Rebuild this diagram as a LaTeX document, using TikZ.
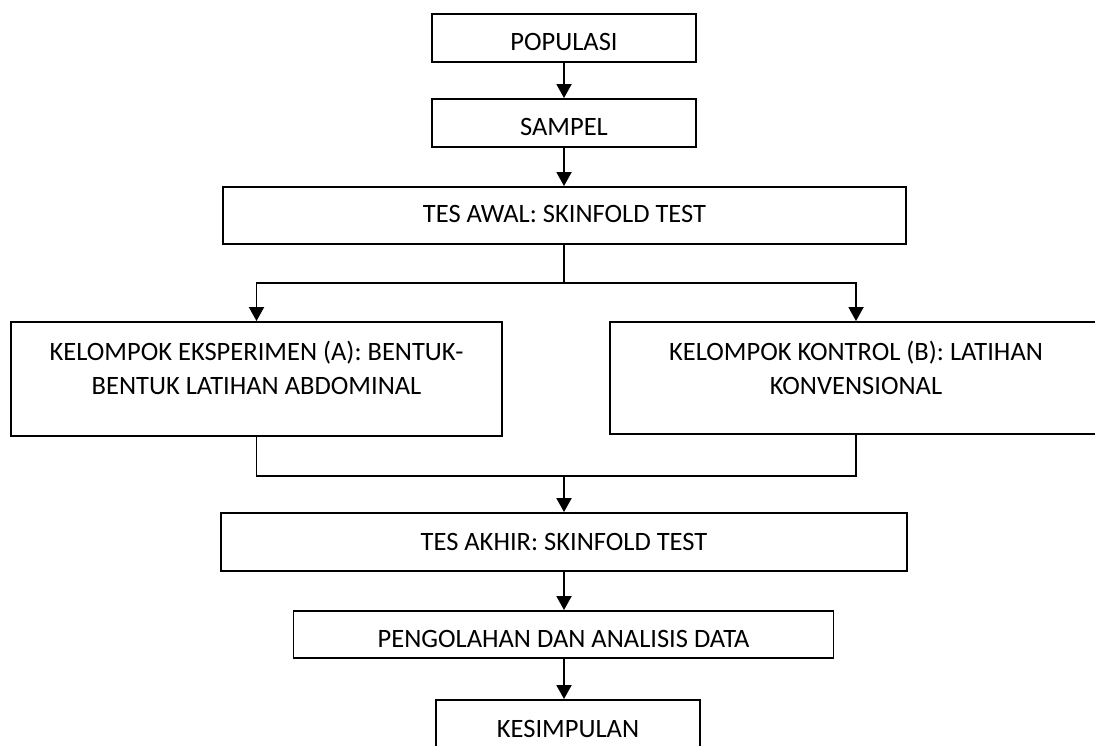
\documentclass[tikz,border=0pt]{standalone}
\usepackage{fontspec}
\setmainfont{Carlito}
\usetikzlibrary{arrows.meta}
\begin{document}
\begin{tikzpicture}[x=1pt,y=-1pt,
  box/.style={draw=black,line width=1.9pt,rectangle,inner sep=0pt},
  txt/.style={anchor=base,inner sep=0pt,font=\fontsize{26.5}{32}\selectfont},
  conn/.style={draw=black,line width=1.9pt},
  arr/.style={conn,-{Triangle[length=14pt,width=15pt]}}]
\useasboundingbox (0,0) rectangle (1095,745);
% boxes
\node[box,minimum width=264,minimum height=48] (pop) at (564,38) {};
\node[txt] (popT) at (564,50) {POPULASI};
\node[box,minimum width=264,minimum height=48] (samp) at (564,123) {};
\node[txt] (sampT) at (564,135) {SAMPEL};
\node[box,minimum width=683,minimum height=57] (awal) at (564.5,215.5) {};
\node[txt] (awalT) at (564.5,222) {TES AWAL: SKINFOLD TEST};
\node[box,minimum width=491,minimum height=114] (boxA) at (256.5,379) {};
\node[txt] (aT1) at (256.5,360) {KELOMPOK EKSPERIMEN (A): BENTUK-};
\node[txt] (aT2) at (256.5,394) {BENTUK LATIHAN ABDOMINAL};
\node[box,minimum width=492,minimum height=112] (boxB) at (856,378) {};
\node[txt] (bT1) at (856,360) {KELOMPOK KONTROL (B): LATIHAN};
\node[txt] (bT2) at (856,394) {KONVENSIONAL};
\node[box,minimum width=686,minimum height=58] (akhir) at (564,542) {};
\node[txt] (akhirT) at (564,550) {TES AKHIR: SKINFOLD TEST};
\node[box,minimum width=540,minimum height=47] (peng) at (563.5,634.5) {};
\node[txt] (pengT) at (563.5,647) {PENGOLAHAN DAN ANALISIS DATA};
\node[box,minimum width=264,minimum height=70] (kes) at (568,735) {};
\node[txt] (kesT) at (568,737) {KESIMPULAN};
% connectors
\draw[arr] (pop.south) -- (samp.north);
\draw[arr] (samp.south) -- (awal.north -| samp.south);
\coordinate (split) at (564,283);
\draw[conn] (awal.south -| split) -- (split);
\draw[arr] (split) -| (boxA.north);
\draw[arr] (split) -| (boxB.north);
\coordinate (merge) at (564,476);
\draw[conn] (boxA.south) |- (merge);
\draw[conn] (boxB.south) |- (merge);
\draw[arr] (merge) -- (akhir.north -| merge);
\draw[arr] (akhir.south -| merge) -- (peng.north -| merge);
\draw[arr] (peng.south -| merge) -- (kes.north -| merge);
\end{tikzpicture}
\end{document}
